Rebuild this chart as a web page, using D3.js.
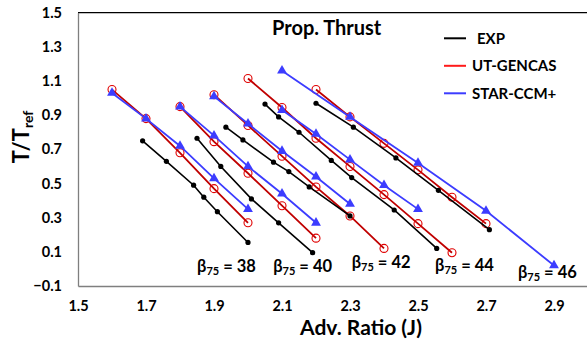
<!DOCTYPE html>
<html>
<head>
<meta charset="utf-8">
<script src="https://cdn.jsdelivr.net/npm/d3@7"></script>
<style>
  body { margin: 0; background: #fff; }
  text { font-family: Lato, "Open Sans", sans-serif; font-weight: 700; }
</style>
</head>
<body>
<div id="chart"></div>
<script>
// pitch angles
var betas = [38, 40, 42, 44, 46];

// EXP (black dots)
var expJ = [
  [1.69, 1.76, 1.84, 1.87, 1.91, 2.0],
  [1.85, 1.92, 2.01, 2.09, 2.19],
  [1.935, 1.985, 2.075, 2.12, 2.18, 2.3],
  [2.05, 2.09, 2.15, 2.245, 2.305, 2.43, 2.555],
  [2.2, 2.31, 2.435, 2.56, 2.71]
];
var expT = [
  [0.75, 0.63, 0.49, 0.42, 0.335, 0.155],
  [0.765, 0.60, 0.41, 0.27, 0.095],
  [0.83, 0.755, 0.625, 0.57, 0.48, 0.31],
  [0.965, 0.89, 0.80, 0.635, 0.535, 0.345, 0.12],
  [0.97, 0.83, 0.65, 0.46, 0.23]
];

// UT-GENCAS (red circles)
var utJ = [
  [1.6, 1.7, 1.8, 1.9, 2.0],
  [1.8, 1.9, 2.0, 2.1, 2.2],
  [1.9, 2.0, 2.1, 2.2, 2.3, 2.4],
  [2.0, 2.1, 2.2, 2.3, 2.4, 2.5, 2.6],
  [2.2, 2.3, 2.4, 2.5, 2.6, 2.7]
];
var utT = [
  [1.05, 0.88, 0.68, 0.47, 0.27],
  [0.95, 0.745, 0.56, 0.37, 0.18],
  [1.02, 0.84, 0.66, 0.48, 0.31, 0.12],
  [1.115, 0.945, 0.765, 0.60, 0.435, 0.265, 0.095],
  [1.05, 0.89, 0.735, 0.58, 0.42, 0.265]
];

// STAR-CCM+ (blue triangles)
var starJ = [
  [1.6, 1.7, 1.8, 1.9, 2.0],
  [1.8, 1.9, 2.0, 2.1, 2.2],
  [1.9, 2.0, 2.1, 2.2, 2.3],
  [2.1, 2.2, 2.3, 2.4, 2.5],
  [2.1, 2.3, 2.5, 2.7, 2.9]
];
var starT = [
  [1.03, 0.88, 0.72, 0.53, 0.35],
  [0.95, 0.78, 0.60, 0.44, 0.27],
  [1.01, 0.85, 0.69, 0.54, 0.38],
  [0.93, 0.79, 0.64, 0.49, 0.35],
  [1.16, 0.89, 0.62, 0.34, 0.02]
];

// beta label anchors (data units)
var labelJ = [1.85, 2.074, 2.305, 2.55, 2.794];
var labelT = [-0.017, -0.017, 0.003, -0.012, -0.055];

var xTicks = [1.5, 1.7, 1.9, 2.1, 2.3, 2.5, 2.7, 2.9];
var yTicks = [-0.1, 0.1, 0.3, 0.5, 0.7, 0.9, 1.1, 1.3, 1.5];

var seriesNames = ["EXP", "UT-GENCAS", "STAR-CCM+"];
var lineColors = ["#000000", "#c00000", "#3c3cff"];
var legendColors = ["#000000", "#ff1a1a", "#3c3cff"];

(function () {
  var width = 587, height = 341;

  var svg = d3.select("#chart")
    .append("svg")
    .attr("width", width)
    .attr("height", height);

  var x = d3.scaleLinear().domain([1.5, 3.0]).range([78, 588]);
  var y = d3.scaleLinear().domain([-0.1, 1.5]).range([286, 12.7]);

  // axes
  var xAxis = d3.axisBottom(x).tickValues(xTicks).tickSize(0).tickPadding(15)
    .tickFormat(d3.format(".1f"));
  svg.append("g")
    .attr("transform", "translate(0," + y(-0.1) + ")")
    .call(xAxis)
    .call(function (g) {
      g.select(".domain").attr("stroke", "#7f7f7f").attr("stroke-width", 1.3);
      g.selectAll("text").attr("font-size", 14.5).attr("fill", "#000");
    });

  var yAxis = d3.axisLeft(y).tickValues(yTicks).tickSize(0).tickPadding(16)
    .tickFormat(d3.format(".1f"));
  svg.append("g")
    .attr("transform", "translate(" + x(1.5) + ",0)")
    .call(yAxis)
    .call(function (g) {
      g.select(".domain").attr("stroke", "#7f7f7f").attr("stroke-width", 1.3);
      g.selectAll("text").attr("font-size", 14.5).attr("fill", "#000");
    });

  // top border
  svg.append("line")
    .attr("x1", x(1.5)).attr("x2", x(3.0))
    .attr("y1", y(1.5)).attr("y2", y(1.5))
    .attr("stroke", "#000").attr("stroke-width", 1.2);

  var line = d3.line()
    .x(function (d) { return x(d[0]); })
    .y(function (d) { return y(d[1]); });

  function pairs(js, ts) {
    return js.map(function (j, i) { return [j, ts[i]]; });
  }

  var groups = betas.map(function (b, i) {
    return {
      beta: b,
      exp: pairs(expJ[i], expT[i]),
      ut: pairs(utJ[i], utT[i]),
      star: pairs(starJ[i], starT[i])
    };
  });

  var tri = d3.symbol().type(d3.symbolTriangle).size(42);

  groups.forEach(function (g) {
    // UT-GENCAS
    svg.append("path")
      .datum(g.ut)
      .attr("d", line)
      .attr("fill", "none")
      .attr("stroke", lineColors[1])
      .attr("stroke-width", 1.8);
    svg.selectAll(null)
      .data(g.ut)
      .enter().append("circle")
      .attr("cx", function (d) { return x(d[0]); })
      .attr("cy", function (d) { return y(d[1]); })
      .attr("r", 4)
      .attr("fill", "none")
      .attr("stroke", "#e00000")
      .attr("stroke-width", 1.1);

    // STAR-CCM+
    svg.append("path")
      .datum(g.star)
      .attr("d", line)
      .attr("fill", "none")
      .attr("stroke", lineColors[2])
      .attr("stroke-width", 1.8);
    svg.selectAll(null)
      .data(g.star)
      .enter().append("path")
      .attr("d", tri)
      .attr("transform", function (d) {
        return "translate(" + x(d[0]) + "," + y(d[1]) + ")";
      })
      .attr("fill", lineColors[2]);

    // EXP
    svg.append("path")
      .datum(g.exp)
      .attr("d", line)
      .attr("fill", "none")
      .attr("stroke", lineColors[0])
      .attr("stroke-width", 1.6);
    svg.selectAll(null)
      .data(g.exp)
      .enter().append("circle")
      .attr("cx", function (d) { return x(d[0]); })
      .attr("cy", function (d) { return y(d[1]); })
      .attr("r", 2.6)
      .attr("fill", "#000");
  });

  // beta labels
  betas.forEach(function (b, i) {
    var t = svg.append("text")
      .attr("x", x(labelJ[i]))
      .attr("y", y(labelT[i]))
      .attr("font-size", 16.5)
      .attr("fill", "#000");
    t.append("tspan").text("\u03b2");
    t.append("tspan").attr("font-size", 11).attr("dy", 3).text("75");
    t.append("tspan").attr("dy", -3).text(" = " + b);
  });

  // title
  svg.append("text")
    .attr("x", 272).attr("y", 35)
    .attr("font-size", 20)
    .text("Prop. Thrust");

  // legend
  var legend = svg.append("g");
  seriesNames.forEach(function (name, i) {
    var ly = 38.3 + i * 27.5;
    legend.append("line")
      .attr("x1", 444).attr("x2", 466)
      .attr("y1", ly).attr("y2", ly)
      .attr("stroke", legendColors[i])
      .attr("stroke-width", 2);
    legend.append("text")
      .attr("x", i === 0 ? 477 : 472)
      .attr("y", ly)
      .attr("dy", "0.36em")
      .attr("font-size", 15)
      .text(name);
  });

  // axis titles
  svg.append("text")
    .attr("x", 361).attr("y", 335)
    .attr("text-anchor", "middle")
    .attr("font-size", 21)
    .text("Adv. Ratio (J)");

  var yt = svg.append("text")
    .attr("transform", "translate(29,137) rotate(-90)")
    .attr("text-anchor", "middle")
    .attr("font-size", 22);
  yt.append("tspan").text("T/T");
  yt.append("tspan").attr("font-size", 14).attr("dy", 4).text("ref");
})();
</script>
</body>
</html>
